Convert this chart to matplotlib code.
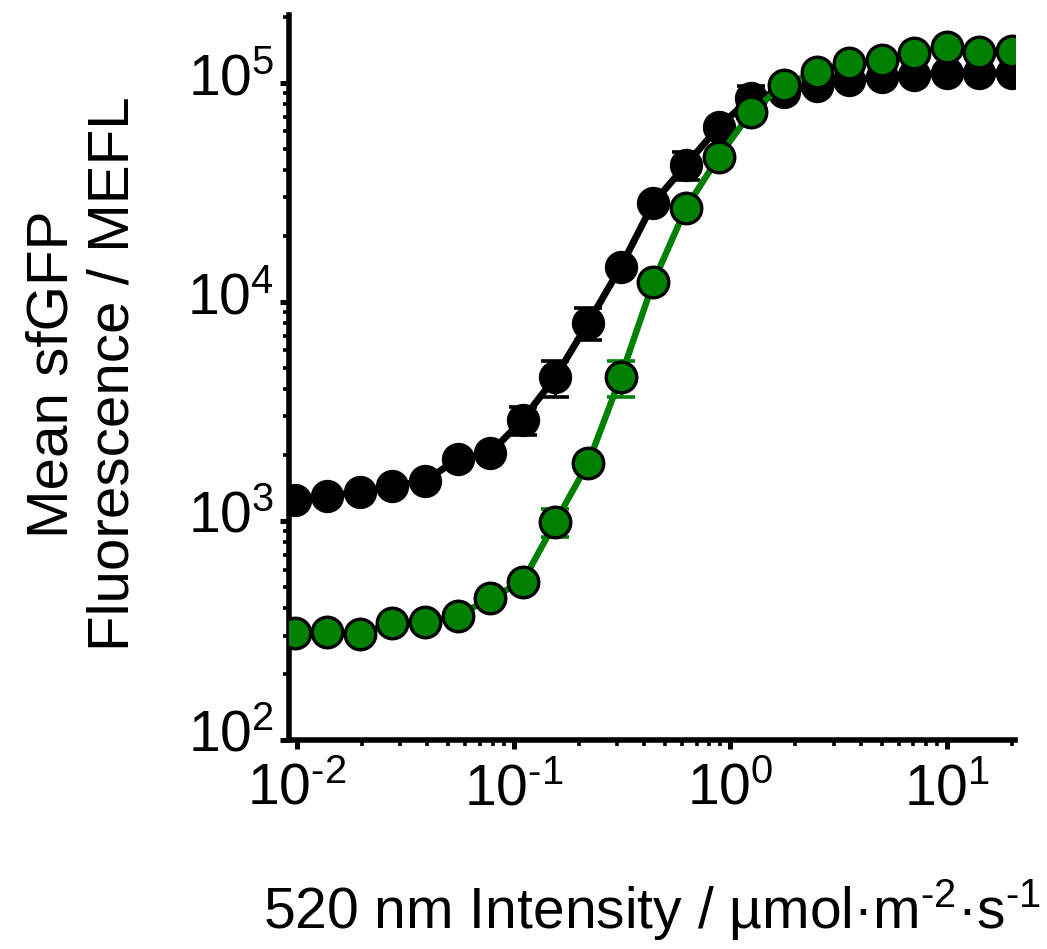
import math
import matplotlib
matplotlib.use("Agg")
import matplotlib.pyplot as plt
from matplotlib.ticker import LogLocator, FuncFormatter, NullFormatter
from matplotlib.transforms import ScaledTranslation

plt.rcParams['font.family'] = ['Liberation Sans', 'DejaVu Sans']
plt.rcParams['mathtext.fontset'] = 'custom'
plt.rcParams['mathtext.rm'] = 'Liberation Sans'
plt.rcParams['mathtext.it'] = 'Liberation Sans:italic'
plt.rcParams['mathtext.bf'] = 'Liberation Sans:bold'

# Light intensity (umol m^-2 s^-1)
intensity = [0.00977, 0.0138, 0.0195, 0.0276, 0.0391, 0.0552, 0.0781, 0.110,
             0.156, 0.221, 0.3125, 0.442, 0.625, 0.884, 1.25, 1.77, 2.5,
             3.54, 5.0, 7.07, 10.0, 14.1, 20.0]

black_mean = [1247, 1301, 1357, 1445, 1523, 1919, 2046, 2893, 4545, 8017,
              14450, 28300, 42250, 62950, 85500, 91000, 96900, 103200,
              106400, 108800, 111100, 111100, 111100]
black_sd = [0, 0, 0, 0, 0, 0, 0, 420, 850, 1350, 0, 0, 6200, 0, 11400,
            0, 0, 0, 0, 0, 0, 0, 0]

green_mean = [308, 310, 305, 342, 346, 368, 445, 527, 990, 1840, 4545, 12340,
              26860, 45900, 73800, 97900, 112200, 123300, 127300, 137000,
              145900, 138600, 140000]
green_sd = [0, 0, 0, 0, 0, 0, 0, 0, 145, 0, 850, 0, 0, 0, 0, 0, 0, 0, 0,
            0, 0, 0, 0]

GREEN = '#008000'

fig = plt.figure(figsize=(10.47, 9.49), dpi=100)
ax = fig.add_axes([0.276, 0.2202, 0.969 - 0.276, 0.9842 - 0.2202])

ax.set_xscale('log')
ax.set_yscale('log')

# black series
ax.errorbar(intensity, black_mean, yerr=black_sd, fmt='none', ecolor='black',
            elinewidth=2.4, capsize=10, capthick=2.6, zorder=2)
ax.plot(intensity, black_mean, '-', color='black', lw=5, zorder=3)
ax.plot(intensity, black_mean, 'o', color='black', ms=22, mec='black',
        mew=2, zorder=4)

# green series
ax.errorbar(intensity, green_mean, yerr=green_sd, fmt='none', ecolor=GREEN,
            elinewidth=2.4, capsize=10, capthick=2.6, zorder=5)
ax.plot(intensity, green_mean, '-', color=GREEN, lw=4.6, zorder=6)
ax.plot(intensity, green_mean, 'o', color=GREEN, ms=22, mec='black',
        mew=2.4, zorder=7)

ax.set_xlim(0.0092, 20.5)
ax.set_ylim(100, 2.04e5)

for s in ['top', 'right']:
    ax.spines[s].set_visible(False)
for s in ['left', 'bottom']:
    ax.spines[s].set_linewidth(4)

def fmt(v, pos):
    e = int(round(math.log10(v)))
    if e < 0:
        return r'$\mathregular{10^{\text{-}%d}}$' % (-e)
    return r'$\mathregular{10^{%d}}$' % e

for axis in (ax.xaxis, ax.yaxis):
    axis.set_major_locator(LogLocator(base=10, numticks=20))
    axis.set_minor_locator(LogLocator(base=10, subs=range(2, 10), numticks=20))
    axis.set_major_formatter(FuncFormatter(fmt))
    axis.set_minor_formatter(NullFormatter())

ax.tick_params(which='major', length=6.5, width=3.6, labelsize=41)
ax.tick_params(which='minor', length=4, width=2.6)
ax.tick_params(axis='x', which='major', pad=10)
ax.tick_params(axis='y', which='major', pad=4)

# center the "10" on the tick, superscript above (as in the reference)
for lab in ax.get_yticklabels():
    lab.set_transform(lab.get_transform() +
                      ScaledTranslation(0, 7 / 72, fig.dpi_scale_trans))

ax.set_ylabel('Mean sfGFP\nFluorescence / MEFL', fontsize=42, linespacing=1.15)
ax.yaxis.set_label_coords(-0.205, 0.505)
ax.set_xlabel(r'520 nm Intensity / µmol·m$^{\text{-}2}$·s$^{\text{-}1}$', fontsize=41)
ax.xaxis.set_label_coords(0.5, -0.19)

fig.savefig('out.png', dpi=100)
